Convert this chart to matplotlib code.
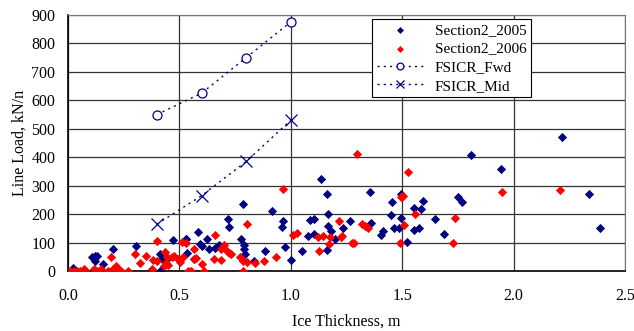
import numpy as np
import matplotlib
matplotlib.use("Agg")
import matplotlib.pyplot as plt

plt.rcParams['font.family'] = ['Liberation Serif', 'DejaVu Serif']

# Section2_2005 (blue)
x05 = [0.021, 0.109, 0.121, 0.133, 0.124, 0.156, 0.148, 0.201, 0.211, 0.305, 0.414, 0.423,
       0.419, 0.447, 0.470, 0.528, 0.530, 0.533, 0.564, 0.583, 0.592, 0.603, 0.625, 0.634,
       0.658, 0.678, 0.720, 0.724, 0.779, 0.785, 0.791, 0.790, 0.794, 0.833, 0.884, 0.917,
       0.959, 0.966, 0.975, 1.002, 1.049, 1.077, 1.085, 1.103, 1.104, 1.136, 1.162, 1.162,
       1.167, 1.168, 1.182, 1.198, 1.236, 1.267, 1.354, 1.359, 1.403, 1.412, 1.451, 1.456,
       1.463, 1.486, 1.495, 1.495, 1.522, 1.553, 1.554, 1.577, 1.586, 1.595, 1.649, 1.686,
       1.752, 1.768, 1.809, 1.942, 2.216, 2.340, 2.388]
y05 = [12, 48, 54, 54, 35, 25, 2, 77, 2, 88, 59, 42,
       5, 43, 109, 114, 114, 62, 41, 137, 95, 88, 113, 77,
       82, 92, 184, 154, 113, 236, 92, 76, 60, 36, 70, 212,
       156, 177, 84, 38, 70, 124, 178, 182, 130, 325, 270, 74,
       199, 159, 142, 113, 152, 175, 278, 170, 126, 142, 196, 243,
       152, 152, 270, 187, 102, 220, 145, 150, 217, 246, 184, 131,
       260, 241, 407, 360, 470, 270, 152]

# Section2_2006 (red)
x06 = [0.009, 0.027, 0.042, 0.054, 0.076, 0.072, 0.118, 0.132, 0.147, 0.181, 0.192, 0.201,
       0.215, 0.223, 0.238, 0.271, 0.302, 0.323, 0.351, 0.376, 0.382, 0.399, 0.399, 0.432,
       0.434, 0.440, 0.446, 0.449, 0.467, 0.477, 0.495, 0.503, 0.513, 0.517, 0.530, 0.540,
       0.551, 0.566, 0.573, 0.564, 0.603, 0.612, 0.657, 0.661, 0.685, 0.688, 0.702, 0.715,
       0.724, 0.733, 0.771, 0.787, 0.788, 0.802, 0.805, 0.841, 0.881, 0.935, 0.966, 1.008,
       1.029, 1.121, 1.127, 1.146, 1.171, 1.176, 1.218, 1.224, 1.231, 1.273, 1.284, 1.299,
       1.321, 1.333, 1.345, 1.492, 1.493, 1.502, 1.508, 1.527, 1.557, 1.727, 1.737, 1.946,
       2.210]
y06 = [2, 2, 2, 2, 2, 6, 6, 2, 9, 2, 49, 7,
       19, 7, 2, 2, 60, 27, 53, 9, 39, 36, 107, 19,
       66, 29, 50, 21, 50, 54, 42, 33, 102, 48, 97, 2,
       2, 41, 47, 77, 25, 2, 43, 128, 77, 38, 92, 71,
       64, 60, 48, 36, 2, 32, 166, 29, 34, 48, 288, 128,
       135, 121, 70, 124, 95, 118, 175, 121, 122, 98, 98, 410,
       166, 158, 151, 98, 261, 265, 163, 349, 199, 98, 187, 277,
       285]

# FSICR curves
x_fsicr = [0.4, 0.6, 0.8, 1.0]
y_fwd = [550, 625, 750, 875]
y_mid = [165, 265, 385, 530]

fig = plt.figure(figsize=(6.34, 3.31), dpi=100)
ax = fig.add_axes([0.107, 0.181, 0.879, 0.774])

ax.scatter(x05, y05, marker='D', s=22, color='#000080', linewidths=0, label='Section2_2005', zorder=3)
ax.scatter(x06, y06, marker='D', s=22, color='#ff0000', linewidths=0, label='Section2_2006', zorder=3)
ax.plot(x_fsicr, y_fwd, color='#000080', linestyle=(0, (1.5, 3)), lw=1, marker='o', ms=6.5,
        mfc='white', mec='#000080', mew=0.9, label='FSICR_Fwd', zorder=4)
ax.plot(x_fsicr, y_mid, color='#000080', linestyle=(0, (1.5, 3)), lw=1, marker='x', ms=8,
        mec='#000080', mew=0.9, label='FSICR_Mid', zorder=4)

ax.set_xlim(0, 2.5)
ax.set_ylim(0, 900)
ax.set_xticks(np.arange(0, 2.51, 0.5))
ax.set_yticks(np.arange(0, 901, 100))
ax.set_xticklabels(['0.0', '0.5', '1.0', '1.5', '2.0', '2.5'])
ax.grid(True, color='#333333', lw=0.9)
ax.set_axisbelow(True)
ax.tick_params(labelsize=11.5, length=0)
ax.tick_params(axis='x', pad=12)
ax.tick_params(axis='y', pad=9)
for s in ['top', 'right']:
    ax.spines[s].set_color('#777777')
for s in ['left', 'bottom']:
    ax.spines[s].set_color('black')
    ax.spines[s].set_linewidth(1.2)

ax.set_xlabel('Ice Thickness, m', fontsize=11.5, labelpad=7)
ax.set_ylabel('Line Load, kN/n', fontsize=11.5, labelpad=3)

leg = ax.legend(loc='upper left', bbox_to_anchor=(0.546, 0.985), fontsize=11, frameon=True,
                fancybox=False, edgecolor='black', framealpha=1, borderpad=0.3,
                labelspacing=0.32, handlelength=3.0, handletextpad=0.8, borderaxespad=0,
                markerscale=0.75)
leg.get_frame().set_linewidth(0.8)

fig.savefig('out.png', dpi=100)
